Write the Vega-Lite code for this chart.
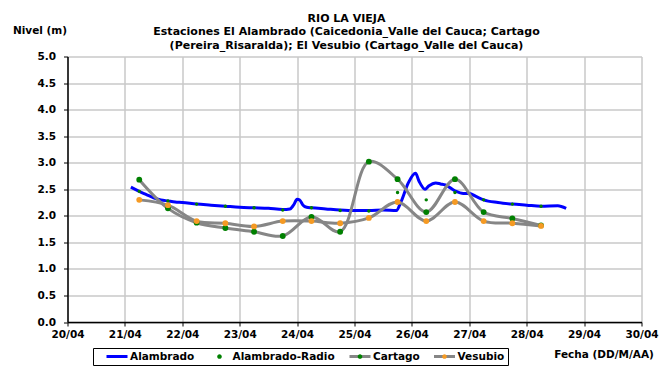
{
  "$schema": "https://vega.github.io/schema/vega-lite/v6.json",
  "width": 574,
  "height": 265.5,
  "autosize": {"type": "none"},
  "padding": {"left": 67.5, "top": 56.5, "right": 21.5, "bottom": 53},
  "background": "white",
  "config": {
    "font": "DejaVu Sans",
    "view": {"stroke": null},
    "axis": {
      "labelFont": "DejaVu Sans", "labelFontWeight": "bold", "labelFontSize": 10.5, "labelColor": "black",
      "titleFont": "DejaVu Sans", "titleFontWeight": "bold", "titleFontSize": 10.5, "titleColor": "black",
      "domainColor": "black", "domainWidth": 1.5, "tickColor": "black", "tickSize": 4,
      "gridColor": "#C8C8C8", "gridWidth": 1.5
    },
    "legend": {
      "labelFont": "DejaVu Sans", "labelFontWeight": "bold", "labelFontSize": 10.5, "labelColor": "black"
    }
  },
  "title": {
    "text": ["RIO LA VIEJA", "Estaciones El Alambrado (Caicedonia_Valle del Cauca; Cartago", "(Pereira_Risaralda);  El Vesubio (Cartago_Valle del Cauca)"],
    "font": "DejaVu Sans", "fontWeight": "bold", "fontSize": 11, "lineHeight": 13.5, "color": "black",
    "anchor": "middle", "dx": -8, "dy": 15, "offset": -10
  },
  "datasets": {
    "d": [
      {"serie": "Alambrado", "fecha": "2011-04-21T02:30", "nivel": 2.54},
      {"serie": "Alambrado", "fecha": "2011-04-21T06:00", "nivel": 2.46},
      {"serie": "Alambrado", "fecha": "2011-04-21T09:00", "nivel": 2.40},
      {"serie": "Alambrado", "fecha": "2011-04-21T12:00", "nivel": 2.34},
      {"serie": "Alambrado", "fecha": "2011-04-21T15:00", "nivel": 2.30},
      {"serie": "Alambrado", "fecha": "2011-04-21T18:00", "nivel": 2.28},
      {"serie": "Alambrado", "fecha": "2011-04-21T21:00", "nivel": 2.26},
      {"serie": "Alambrado", "fecha": "2011-04-22T00:00", "nivel": 2.25},
      {"serie": "Alambrado", "fecha": "2011-04-22T06:00", "nivel": 2.22},
      {"serie": "Alambrado", "fecha": "2011-04-22T12:00", "nivel": 2.20},
      {"serie": "Alambrado", "fecha": "2011-04-22T18:00", "nivel": 2.18},
      {"serie": "Alambrado", "fecha": "2011-04-23T00:00", "nivel": 2.16},
      {"serie": "Alambrado", "fecha": "2011-04-23T06:00", "nivel": 2.15},
      {"serie": "Alambrado", "fecha": "2011-04-23T12:00", "nivel": 2.14},
      {"serie": "Alambrado", "fecha": "2011-04-23T18:00", "nivel": 2.12},
      {"serie": "Alambrado", "fecha": "2011-04-23T21:00", "nivel": 2.13},
      {"serie": "Alambrado", "fecha": "2011-04-23T22:30", "nivel": 2.20},
      {"serie": "Alambrado", "fecha": "2011-04-24T00:00", "nivel": 2.31},
      {"serie": "Alambrado", "fecha": "2011-04-24T01:00", "nivel": 2.30},
      {"serie": "Alambrado", "fecha": "2011-04-24T02:30", "nivel": 2.20},
      {"serie": "Alambrado", "fecha": "2011-04-24T04:00", "nivel": 2.16},
      {"serie": "Alambrado", "fecha": "2011-04-24T06:00", "nivel": 2.15},
      {"serie": "Alambrado", "fecha": "2011-04-24T12:00", "nivel": 2.13},
      {"serie": "Alambrado", "fecha": "2011-04-24T18:00", "nivel": 2.11},
      {"serie": "Alambrado", "fecha": "2011-04-25T00:00", "nivel": 2.10},
      {"serie": "Alambrado", "fecha": "2011-04-25T06:00", "nivel": 2.10},
      {"serie": "Alambrado", "fecha": "2011-04-25T12:00", "nivel": 2.11},
      {"serie": "Alambrado", "fecha": "2011-04-25T17:30", "nivel": 2.10},
      {"serie": "Alambrado", "fecha": "2011-04-25T19:30", "nivel": 2.27},
      {"serie": "Alambrado", "fecha": "2011-04-25T22:30", "nivel": 2.62},
      {"serie": "Alambrado", "fecha": "2011-04-26T01:30", "nivel": 2.80},
      {"serie": "Alambrado", "fecha": "2011-04-26T03:00", "nivel": 2.65},
      {"serie": "Alambrado", "fecha": "2011-04-26T05:30", "nivel": 2.50},
      {"serie": "Alambrado", "fecha": "2011-04-26T07:00", "nivel": 2.56},
      {"serie": "Alambrado", "fecha": "2011-04-26T10:00", "nivel": 2.62},
      {"serie": "Alambrado", "fecha": "2011-04-26T12:00", "nivel": 2.60},
      {"serie": "Alambrado", "fecha": "2011-04-26T14:00", "nivel": 2.58},
      {"serie": "Alambrado", "fecha": "2011-04-26T18:00", "nivel": 2.47},
      {"serie": "Alambrado", "fecha": "2011-04-26T21:30", "nivel": 2.42},
      {"serie": "Alambrado", "fecha": "2011-04-27T00:00", "nivel": 2.42},
      {"serie": "Alambrado", "fecha": "2011-04-27T03:00", "nivel": 2.36},
      {"serie": "Alambrado", "fecha": "2011-04-27T06:00", "nivel": 2.30},
      {"serie": "Alambrado", "fecha": "2011-04-27T12:00", "nivel": 2.25},
      {"serie": "Alambrado", "fecha": "2011-04-27T18:00", "nivel": 2.22},
      {"serie": "Alambrado", "fecha": "2011-04-28T00:00", "nivel": 2.20},
      {"serie": "Alambrado", "fecha": "2011-04-28T06:00", "nivel": 2.18},
      {"serie": "Alambrado", "fecha": "2011-04-28T13:00", "nivel": 2.19},
      {"serie": "Alambrado", "fecha": "2011-04-28T16:30", "nivel": 2.14},

      {"serie": "Alambrado-Radio", "fecha": "2011-04-21T06:00", "nivel": 2.46},
      {"serie": "Alambrado-Radio", "fecha": "2011-04-21T18:00", "nivel": 2.28},
      {"serie": "Alambrado-Radio", "fecha": "2011-04-22T06:00", "nivel": 2.22},
      {"serie": "Alambrado-Radio", "fecha": "2011-04-22T18:00", "nivel": 2.18},
      {"serie": "Alambrado-Radio", "fecha": "2011-04-23T06:00", "nivel": 2.15},
      {"serie": "Alambrado-Radio", "fecha": "2011-04-23T18:00", "nivel": 2.11},
      {"serie": "Alambrado-Radio", "fecha": "2011-04-24T06:00", "nivel": 2.15},
      {"serie": "Alambrado-Radio", "fecha": "2011-04-24T18:00", "nivel": 2.10},
      {"serie": "Alambrado-Radio", "fecha": "2011-04-25T06:00", "nivel": 2.09},
      {"serie": "Alambrado-Radio", "fecha": "2011-04-25T18:00", "nivel": 2.44},
      {"serie": "Alambrado-Radio", "fecha": "2011-04-26T06:00", "nivel": 2.30},
      {"serie": "Alambrado-Radio", "fecha": "2011-04-26T18:00", "nivel": 2.44},
      {"serie": "Alambrado-Radio", "fecha": "2011-04-27T06:00", "nivel": 2.30},
      {"serie": "Alambrado-Radio", "fecha": "2011-04-27T18:00", "nivel": 2.22},
      {"serie": "Alambrado-Radio", "fecha": "2011-04-28T06:00", "nivel": 2.18},

      {"serie": "Cartago", "fecha": "2011-04-21T06:00", "nivel": 2.68},
      {"serie": "Cartago", "fecha": "2011-04-21T18:00", "nivel": 2.14},
      {"serie": "Cartago", "fecha": "2011-04-22T06:00", "nivel": 1.87},
      {"serie": "Cartago", "fecha": "2011-04-22T18:00", "nivel": 1.77},
      {"serie": "Cartago", "fecha": "2011-04-23T06:00", "nivel": 1.70},
      {"serie": "Cartago", "fecha": "2011-04-23T18:00", "nivel": 1.62},
      {"serie": "Cartago", "fecha": "2011-04-24T06:00", "nivel": 1.98},
      {"serie": "Cartago", "fecha": "2011-04-24T18:00", "nivel": 1.70},
      {"serie": "Cartago", "fecha": "2011-04-25T06:00", "nivel": 3.02},
      {"serie": "Cartago", "fecha": "2011-04-25T18:00", "nivel": 2.69},
      {"serie": "Cartago", "fecha": "2011-04-26T06:00", "nivel": 2.07},
      {"serie": "Cartago", "fecha": "2011-04-26T18:00", "nivel": 2.69},
      {"serie": "Cartago", "fecha": "2011-04-27T06:00", "nivel": 2.07},
      {"serie": "Cartago", "fecha": "2011-04-27T18:00", "nivel": 1.95},
      {"serie": "Cartago", "fecha": "2011-04-28T06:00", "nivel": 1.82},

      {"serie": "Vesubio", "fecha": "2011-04-21T06:00", "nivel": 2.30},
      {"serie": "Vesubio", "fecha": "2011-04-21T18:00", "nivel": 2.20},
      {"serie": "Vesubio", "fecha": "2011-04-22T06:00", "nivel": 1.90},
      {"serie": "Vesubio", "fecha": "2011-04-22T18:00", "nivel": 1.86},
      {"serie": "Vesubio", "fecha": "2011-04-23T06:00", "nivel": 1.80},
      {"serie": "Vesubio", "fecha": "2011-04-23T18:00", "nivel": 1.90},
      {"serie": "Vesubio", "fecha": "2011-04-24T06:00", "nivel": 1.90},
      {"serie": "Vesubio", "fecha": "2011-04-24T18:00", "nivel": 1.86},
      {"serie": "Vesubio", "fecha": "2011-04-25T06:00", "nivel": 1.96},
      {"serie": "Vesubio", "fecha": "2011-04-25T18:00", "nivel": 2.26},
      {"serie": "Vesubio", "fecha": "2011-04-26T06:00", "nivel": 1.90},
      {"serie": "Vesubio", "fecha": "2011-04-26T18:00", "nivel": 2.26},
      {"serie": "Vesubio", "fecha": "2011-04-27T06:00", "nivel": 1.90},
      {"serie": "Vesubio", "fecha": "2011-04-27T18:00", "nivel": 1.86},
      {"serie": "Vesubio", "fecha": "2011-04-28T06:00", "nivel": 1.81}
    ]
  },
  "data": {"name": "d"},
  "encoding": {
    "x": {
      "field": "fecha", "type": "temporal",
      "scale": {"domain": [{"year": 2011, "month": 4, "date": 20}, {"year": 2011, "month": 4, "date": 30}]},
      "axis": {
        "format": "%d/%m", "tickCount": {"interval": "day", "step": 1}, "labelPadding": 3,
        "title": "Fecha (DD/M/AA)", "titleX": 536, "titleY": 32, "titleAlign": "center", "titleBaseline": "middle",
        "labelFlush": false, "labelOverlap": false
      }
    },
    "y": {
      "field": "nivel", "type": "quantitative",
      "scale": {"domain": [0, 5], "nice": false},
      "axis": {
        "values": [0, 0.5, 1, 1.5, 2, 2.5, 3, 3.5, 4, 4.5, 5], "format": ".1f", "labelPadding": 8,
        "title": "Nivel (m)", "titleAngle": 0, "titleX": -28, "titleY": -26, "titleAlign": "center", "titleBaseline": "middle"
      }
    }
  },
  "layer": [
    {
      "transform": [{"filter": "datum.serie === 'Alambrado'"}],
      "mark": {"type": "line", "strokeWidth": 3, "interpolate": "monotone"},
      "encoding": {
        "stroke": {
          "field": "serie", "type": "nominal",
          "scale": {"domain": ["Alambrado", "Alambrado-Radio", "Cartago", "Vesubio", "_"], "range": ["#0000FF", "transparent", "#868686", "#868686", "transparent"]},
          "legend": {
            "values": ["Alambrado", "Alambrado-Radio", "Cartago", "Vesubio"],
            "title": " ", "titleOrient": "left", "titlePadding": 9, "titleFontSize": 10,
            "orient": "none", "direction": "horizontal", "legendX": 25.5, "legendY": 291.5,
            "symbolType": "stroke", "symbolSize": 441, "symbolStrokeWidth": 3, "labelColor": "transparent",
            "labelExpr": "datum.label == 'Vesubio' ? 'Vesubio   ' : datum.label",
            "labelOffset": 1, "columnPadding": 12.5, "padding": 3, "symbolOffset": 0, "clipHeight": 11
          }
        }
      }
    },
    {
      "transform": [{"filter": "datum.serie === 'Cartago' || datum.serie === 'Vesubio'"}],
      "mark": {"type": "line", "strokeWidth": 3, "interpolate": "catmull-rom"},
      "encoding": {
        "stroke": {"field": "serie", "type": "nominal"},
        "detail": {"field": "serie"}
      }
    },
    {
      "transform": [{"filter": "datum.serie === 'Alambrado-Radio'"}],
      "mark": {"type": "point", "filled": true, "size": 12, "opacity": 1, "strokeWidth": 0},
      "encoding": {
        "fill": {
          "field": "serie", "type": "nominal",
          "scale": {"domain": ["Alambrado", "Alambrado-Radio", "Cartago", "Vesubio"], "range": ["transparent", "#008000", "#008000", "#F59A23"]},
          "legend": {
            "title": " ", "titleOrient": "left", "titlePadding": 9, "titleFontSize": 10,
            "orient": "none", "direction": "horizontal", "legendX": 25.5, "legendY": 291.5,
            "symbolType": "M-1,0H1M0.22,0A0.22,0.22,0,1,1,-0.22,0A0.22,0.22,0,1,1,0.22,0Z",
            "symbolSize": 441, "symbolStrokeWidth": 3, "symbolStrokeColor": "transparent",
            "labelExpr": "datum.label == 'Vesubio' ? 'Vesubio   ' : datum.label",
            "labelOffset": 1, "columnPadding": 12.5, "padding": 3, "symbolOffset": 0, "clipHeight": 11,
            "strokeColor": "black",
            "encode": {
              "symbols": {
                "update": {
                  "shape": {"signal": "datum.value === 'Alambrado-Radio' ? 'M-1,0H1M0.14,0A0.14,0.14,0,1,1,-0.14,0A0.14,0.14,0,1,1,0.14,0Z' : 'M-1,0H1M0.22,0A0.22,0.22,0,1,1,-0.22,0A0.22,0.22,0,1,1,0.22,0Z'"}
                }
              }
            }
          }
        }
      }
    },
    {
      "transform": [{"filter": "datum.serie === 'Cartago' || datum.serie === 'Vesubio'"}],
      "mark": {"type": "point", "filled": true, "size": 34, "opacity": 1, "strokeWidth": 0},
      "encoding": {
        "fill": {"field": "serie", "type": "nominal"}
      }
    }
  ]
}
